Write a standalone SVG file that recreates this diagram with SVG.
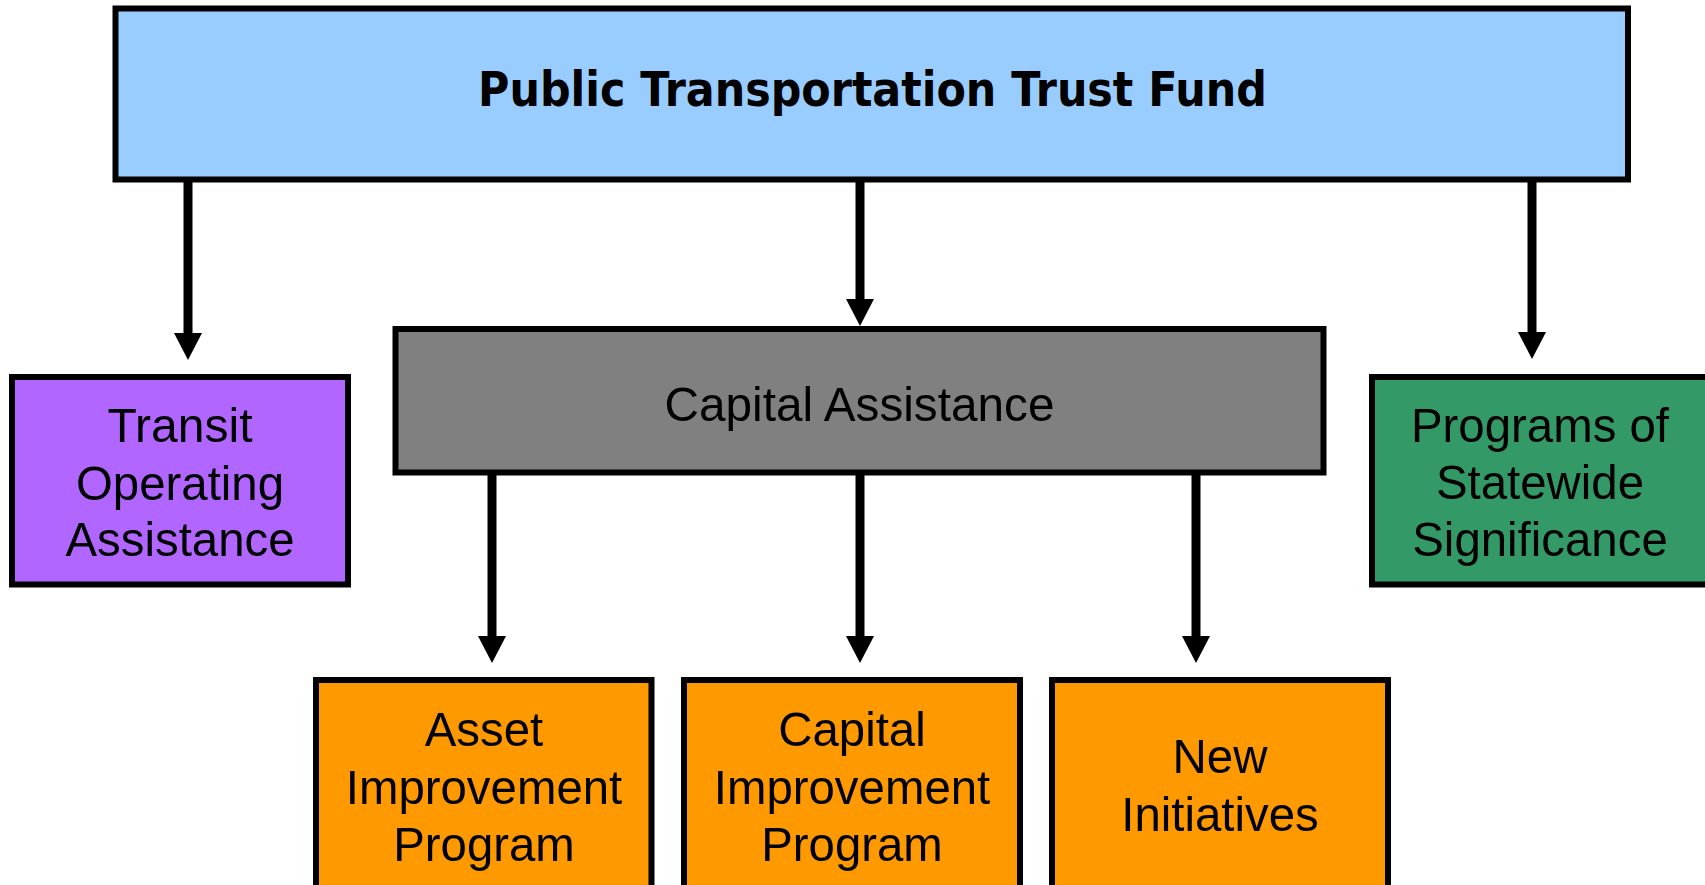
<svg xmlns="http://www.w3.org/2000/svg" width="1705" height="885" viewBox="0 0 1705 885">
<style>
.box{stroke:#000;stroke-width:6}
.t{font-family:"Liberation Sans",Arial,sans-serif;font-size:49px;fill:#000;text-anchor:middle}
.title{font-family:"DejaVu Sans","Liberation Sans",sans-serif;font-weight:bold;font-size:48px;fill:#000;text-anchor:middle}
.c{stroke:#000;stroke-width:9;fill:none}
</style>
<defs>
<marker id="ah" markerUnits="userSpaceOnUse" markerWidth="28" markerHeight="28" refX="0" refY="14" orient="auto" overflow="visible">
<path d="M0,0 L27,14 L0,28 z" fill="#000"/>
</marker>
</defs>
<rect width="1705" height="885" fill="#fff"/>
<g id="connectors">
<line class="c" x1="188" y1="182" x2="188" y2="333" marker-end="url(#ah)"/>
<line class="c" x1="860" y1="182" x2="860" y2="299" marker-end="url(#ah)"/>
<line class="c" x1="1532" y1="182" x2="1532" y2="332" marker-end="url(#ah)"/>
<line class="c" x1="492" y1="474" x2="492" y2="636" marker-end="url(#ah)"/>
<line class="c" x1="860" y1="474" x2="860" y2="636" marker-end="url(#ah)"/>
<line class="c" x1="1196" y1="474" x2="1196" y2="636" marker-end="url(#ah)"/>
</g>
<g id="trust-fund">
<rect class="box" x="115.5" y="8.5" width="1512.5" height="171" fill="#99CCFF"/>
<text class="title" x="872.5" y="105.5" textLength="789" lengthAdjust="spacingAndGlyphs">Public Transportation Trust Fund</text>
</g>
<g id="transit-operating">
<rect class="box" x="12" y="377" width="336" height="207.5" fill="#B066FF"/>
<text class="t" x="180" y="442" textLength="145" lengthAdjust="spacingAndGlyphs">Transit</text>
<text class="t" x="180" y="499.5" textLength="208" lengthAdjust="spacingAndGlyphs">Operating</text>
<text class="t" x="180" y="556" textLength="229" lengthAdjust="spacingAndGlyphs">Assistance</text>
</g>
<g id="capital-assistance">
<rect class="box" x="395.5" y="329" width="928" height="143.5" fill="#808080"/>
<text class="t" x="859.5" y="421" textLength="390" lengthAdjust="spacingAndGlyphs">Capital Assistance</text>
</g>
<g id="statewide">
<rect class="box" x="1372" y="377" width="336" height="207.5" fill="#339966"/>
<text class="t" x="1540" y="441.5" textLength="258" lengthAdjust="spacingAndGlyphs">Programs of</text>
<text class="t" x="1540" y="499" textLength="208" lengthAdjust="spacingAndGlyphs">Statewide</text>
<text class="t" x="1540" y="555.5" textLength="255.5" lengthAdjust="spacingAndGlyphs">Significance</text>
</g>
<g id="asset-improvement">
<rect class="box" x="316" y="680" width="335.5" height="230" fill="#FF9900"/>
<text class="t" x="484" y="746" textLength="118.5" lengthAdjust="spacingAndGlyphs">Asset</text>
<text class="t" x="484" y="803.5" textLength="276.5" lengthAdjust="spacingAndGlyphs">Improvement</text>
<text class="t" x="484" y="860.5" textLength="181.5" lengthAdjust="spacingAndGlyphs">Program</text>
</g>
<g id="capital-improvement">
<rect class="box" x="684" y="680" width="336" height="230" fill="#FF9900"/>
<text class="t" x="852" y="746" textLength="147.5" lengthAdjust="spacingAndGlyphs">Capital</text>
<text class="t" x="852" y="803.5" textLength="276.5" lengthAdjust="spacingAndGlyphs">Improvement</text>
<text class="t" x="852" y="860.5" textLength="181.5" lengthAdjust="spacingAndGlyphs">Program</text>
</g>
<g id="new-initiatives">
<rect class="box" x="1052" y="680" width="336" height="230" fill="#FF9900"/>
<text class="t" x="1220" y="773" textLength="95" lengthAdjust="spacingAndGlyphs">New</text>
<text class="t" x="1220" y="831" textLength="197.5" lengthAdjust="spacingAndGlyphs">Initiatives</text>
</g>
</svg>
